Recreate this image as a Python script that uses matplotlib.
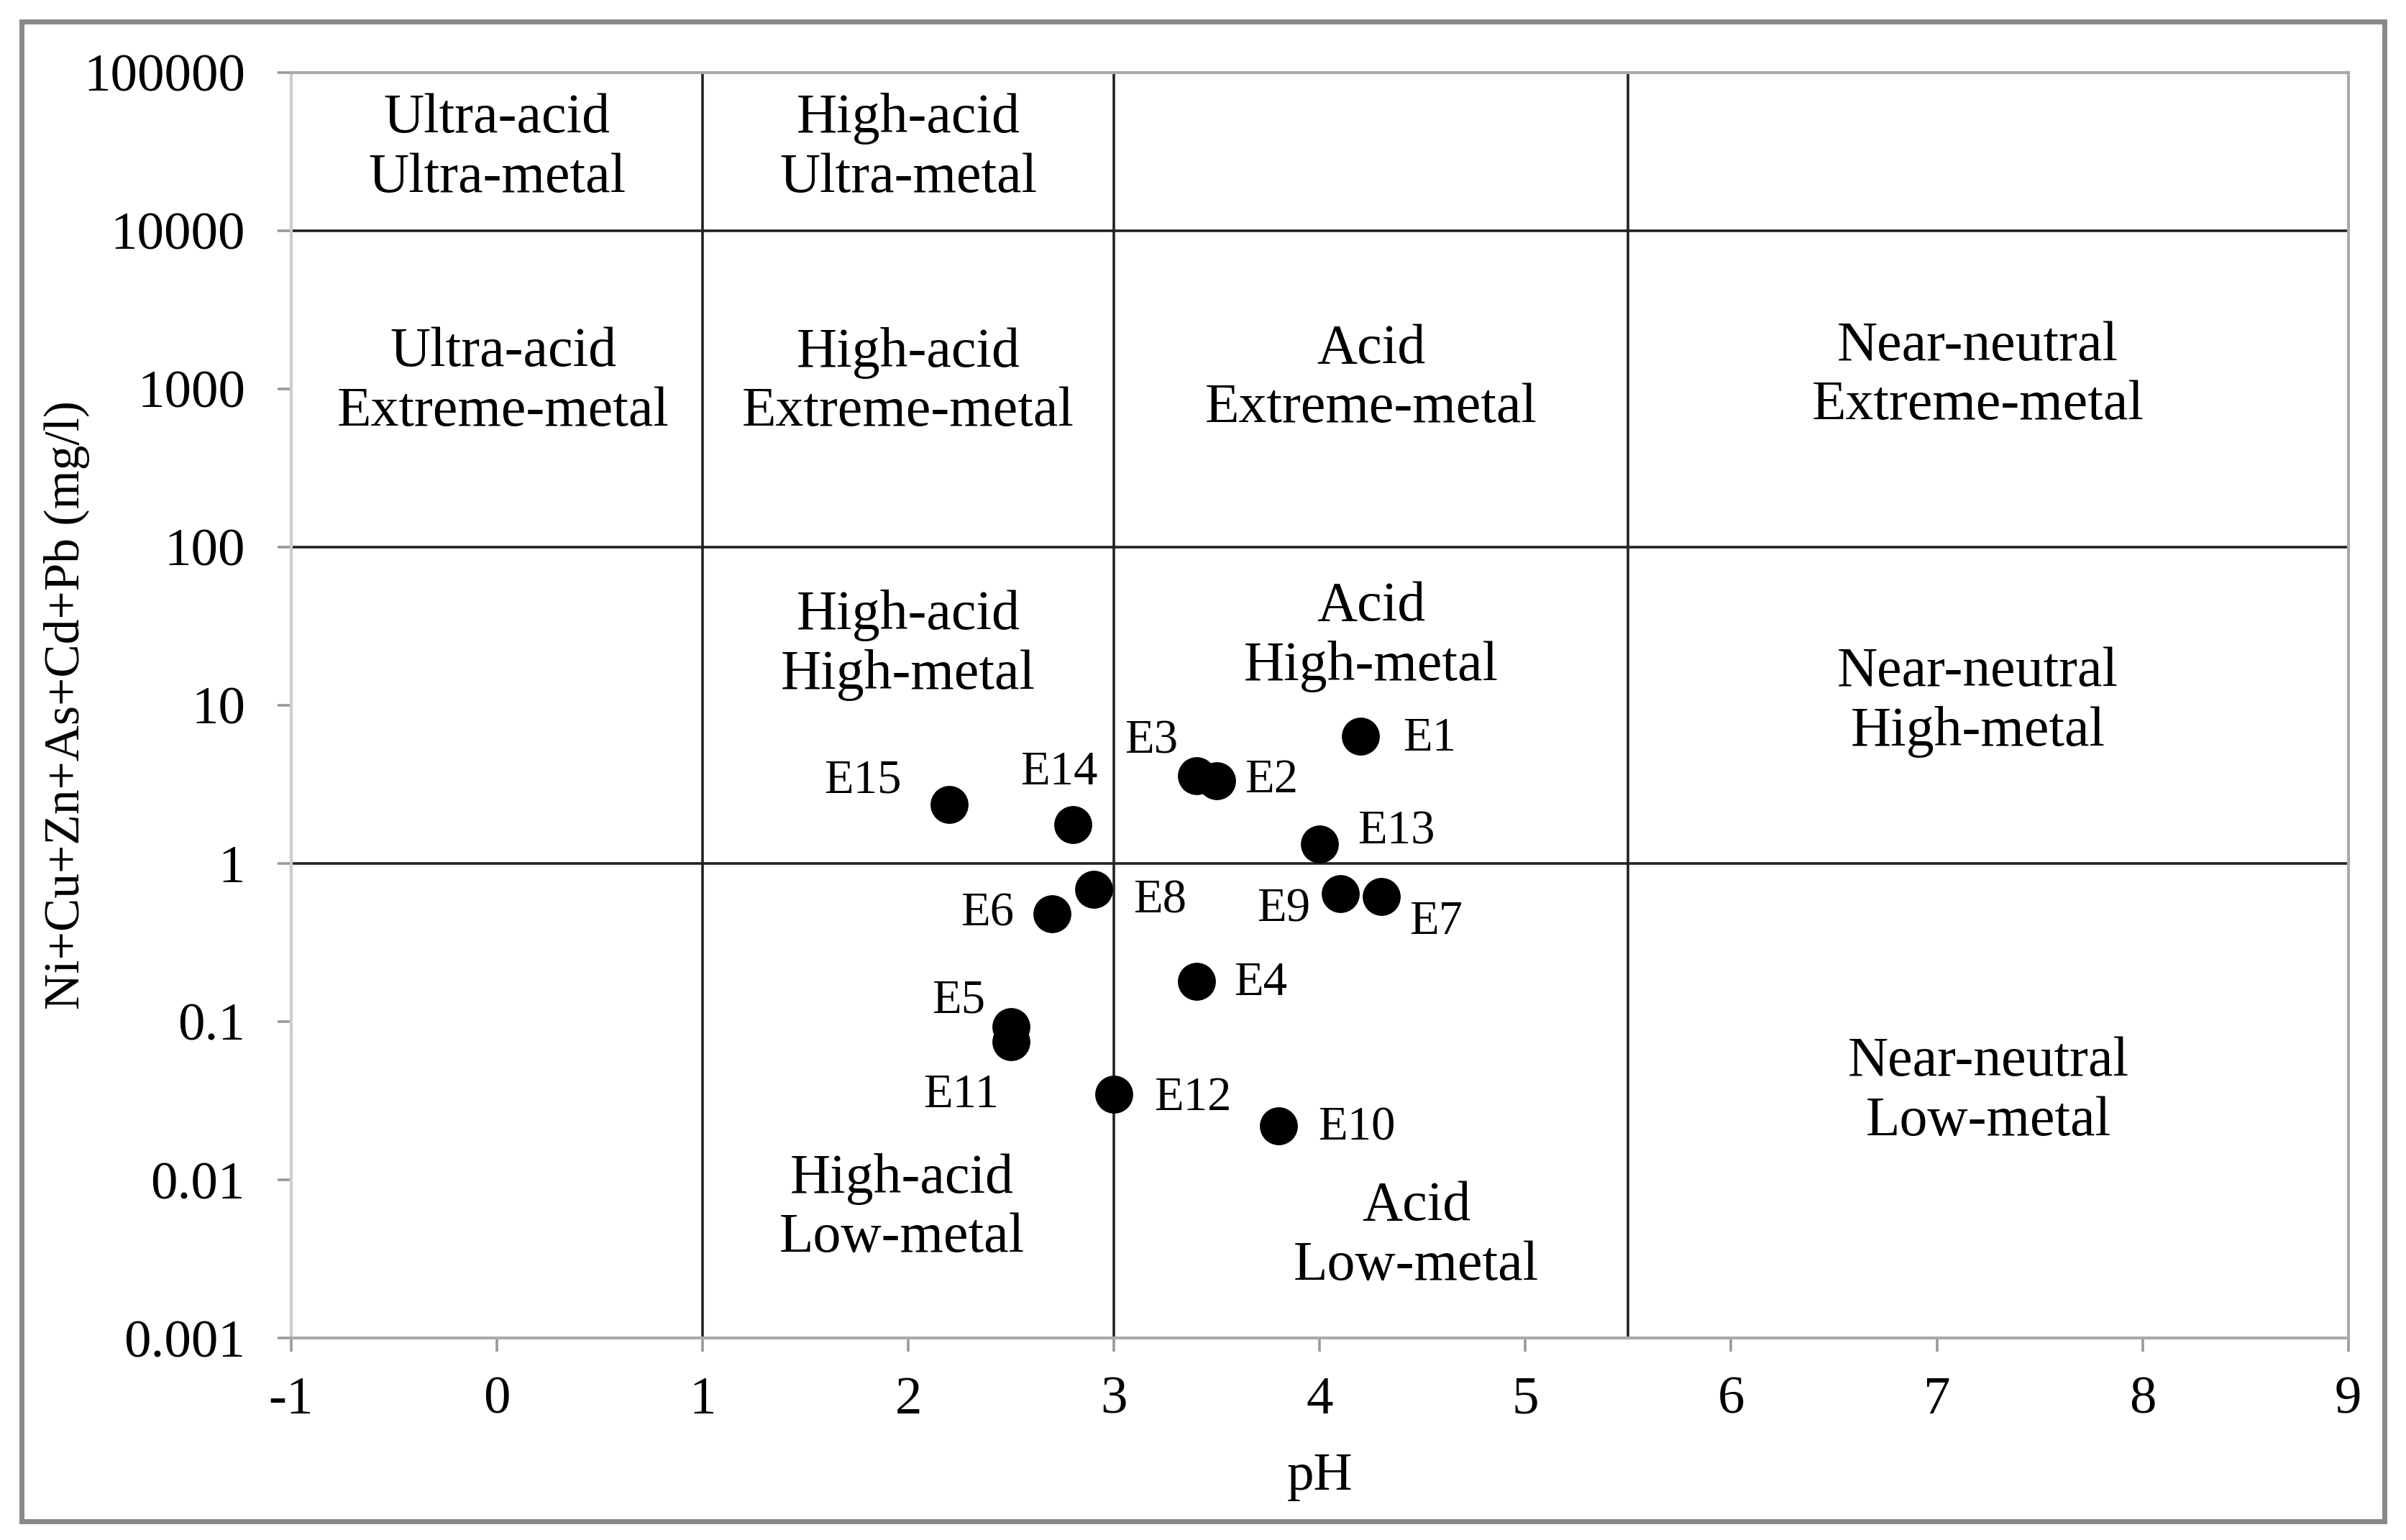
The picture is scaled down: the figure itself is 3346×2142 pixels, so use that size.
import matplotlib.pyplot as plt
from matplotlib.patches import Rectangle
from matplotlib.ticker import FixedLocator

plt.rcParams['font.family'] = ['Liberation Serif', 'DejaVu Serif']
plt.rcParams['axes.unicode_minus'] = False

# sample points
names = ['E1', 'E2', 'E3', 'E4', 'E5', 'E6', 'E7', 'E8', 'E9', 'E10',
         'E11', 'E12', 'E13', 'E14', 'E15']
ph = [4.2, 3.5, 3.4, 3.4, 2.5, 2.7, 4.3, 2.9, 4.1, 3.8,
      2.5, 3.0, 4.0, 2.8, 2.2]
metals = [6.35, 3.35, 3.6, 0.18, 0.093, 0.48, 0.62, 0.69, 0.645, 0.022,
          0.075, 0.035, 1.33, 1.76, 2.35]

# classification boundaries
ph_bounds = [1, 3, 5.5]
metal_bounds = [10000, 100, 1]

# region names and where they sit (pH, metal)
regions = ['Ultra-acid\nUltra-metal', 'High-acid\nUltra-metal',
           'Ultra-acid\nExtreme-metal', 'High-acid\nExtreme-metal',
           'Acid\nExtreme-metal', 'Near-neutral\nExtreme-metal',
           'High-acid\nHigh-metal', 'Acid\nHigh-metal', 'Near-neutral\nHigh-metal',
           'High-acid\nLow-metal', 'Acid\nLow-metal', 'Near-neutral\nLow-metal']
region_x = [0.0, 2.0, 0.03, 2.0, 4.25, 7.2, 2.0, 4.25, 7.2, 1.97, 4.47, 7.25]
region_y = [3.3e4, 3.3e4, 1.1e3, 1.1e3, 1.15e3, 1.2e3, 24, 27, 10.5, 0.0066, 0.0044, 0.036]

yticks = [1e5, 1e4, 1e3, 100, 10, 1, 0.1, 0.01, 0.001]
ytick_labels = ['100000', '10000', '1000', '100', '10', '1', '0.1', '0.01', '0.001']
xticks = list(range(-1, 10))

# label offsets in points (dx, dy, ha)
offsets = {
    'E1': (21, -1, 'left'), 'E2': (14, 0, 'left'), 'E3': (-9, 17, 'right'),
    'E4': (19, -1, 'left'), 'E5': (-13, 13, 'right'), 'E6': (-19, 0, 'right'),
    'E7': (14, -13, 'left'), 'E8': (20, -6, 'left'), 'E9': (-15, -8, 'right'),
    'E10': (20, -1, 'left'), 'E11': (-6, -27, 'right'), 'E12': (20, -2, 'left'),
    'E13': (19, 6, 'left'), 'E14': (-7, 26, 'center'), 'E15': (-24, 12, 'right'),
}

fig = plt.figure(figsize=(16.73, 10.71), dpi=200)
ax = fig.add_axes([0.121, 0.131, 0.855, 0.822])

ax.set_yscale('log')
ax.set_xlim(-1, 9)
ax.set_ylim(0.001, 100000)

for b in metal_bounds:
    ax.axhline(b, color='#222222', lw=1.3, zorder=1)
for b in ph_bounds:
    ax.axvline(b, color='#222222', lw=1.3, zorder=1)

ax.plot(ph, metals, 'o', color='black', ms=18, zorder=3)
for n, x, y in zip(names, ph, metals):
    dx, dy, ha = offsets[n]
    ax.annotate(n, (x, y), xytext=(dx, dy), textcoords='offset points',
                ha=ha, va='center', fontsize=24)

for t, x, y in zip(regions, region_x, region_y):
    ax.text(x, y, t, ha='center', va='center', fontsize=28, linespacing=1.2)

ax.yaxis.set_major_locator(FixedLocator(yticks))
ax.set_yticklabels(ytick_labels)
ax.yaxis.set_minor_locator(FixedLocator([]))
ax.set_xticks(xticks)
ax.tick_params(axis='both', direction='out', length=7, width=1.3,
               color='#999999', labelsize=27)
ax.tick_params(axis='y', pad=16)
ax.tick_params(axis='x', pad=12)

for s in ax.spines.values():
    s.set_color('#aaaaaa')
    s.set_linewidth(1.5)
ax.spines['left'].set_color('#cccccc')

ax.set_xlabel('pH', fontsize=27, labelpad=14)
ax.set_ylabel('Ni+Cu+Zn+As+Cd+Pb (mg/l)', fontsize=25)
ax.yaxis.set_label_coords(-0.098, 0.5)

fig.patches.append(Rectangle((0.009, 0.012), 0.982, 0.974, transform=fig.transFigure,
                             fill=False, edgecolor='#888888', lw=2.5))

fig.savefig('out.png', dpi=200)
